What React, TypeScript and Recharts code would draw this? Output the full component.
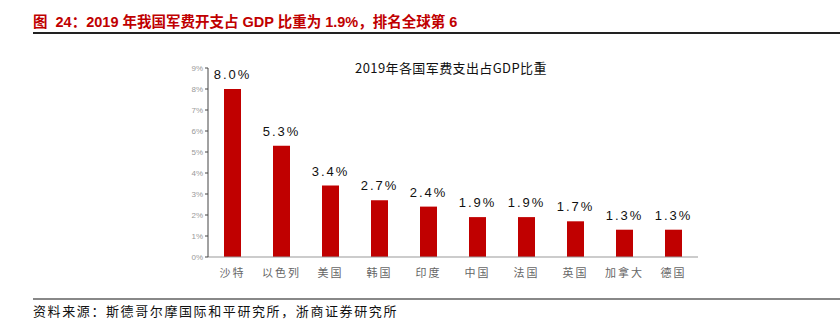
import { Bar, BarChart, LabelList, XAxis, YAxis } from "recharts";

const COUNTRIES = ["沙特", "以色列", "美国", "韩国", "印度", "中国", "法国", "英国", "加拿大", "德国"];
const SHARE_OF_GDP = [8.0, 5.3, 3.4, 2.7, 2.4, 1.9, 1.9, 1.7, 1.3, 1.3];
const Y_TICKS = [0, 1, 2, 3, 4, 5, 6, 7, 8, 9];

const data = COUNTRIES.map((name, i) => ({ name, value: SHARE_OF_GDP[i] }));

const CJK = '"Noto Sans CJK SC", sans-serif';

const App = () => {
  return (
    <div
      style={{
        position: "absolute",
        left: 0,
        top: 0,
        width: 840,
        height: 321,
        background: "#fff",
        overflow: "hidden",
      }}
    >
      <div
        style={{
          position: "absolute",
          left: 33,
          top: 10,
          fontFamily: '"Liberation Sans", "Noto Sans CJK SC", sans-serif',
          fontWeight: 700,
          fontSize: 14.5,
          color: "#c00000",
          whiteSpace: "pre",
        }}
      >
        图  24：2019 年我国军费开支占 GDP 比重为 1.9%，排名全球第 6
      </div>
      <div style={{ position: "absolute", left: 33, right: 0, top: 32, height: 2, background: "#222" }} />

      <div
        style={{
          position: "absolute",
          left: 451,
          top: 58,
          transform: "translateX(-50%)",
          fontFamily: CJK,
          fontSize: 13,
          letterSpacing: 0.4,
          color: "#111",
          whiteSpace: "nowrap",
        }}
      >
        2019年各国军费支出占GDP比重
      </div>

      <div style={{ position: "absolute", left: 0, top: 0 }}>
        <BarChart width={840} height={321} data={data} margin={{ top: 68, right: 142, left: 178, bottom: 34 }}>
          <XAxis
            dataKey="name"
            height={30}
            axisLine={{ stroke: "#999" }}
            tickLine={false}
            tick={{ fontSize: 11, fill: "#666", fontFamily: CJK, letterSpacing: 2 }}
            tickMargin={6}
            interval={0}
          />
          <YAxis
            width={30}
            domain={[0, 9]}
            ticks={Y_TICKS}
            tickFormatter={(v: number) => `${v}%`}
            axisLine={{ stroke: "#444" }}
            tickLine={{ stroke: "#444" }}
            tickSize={3}
            tick={{ fontSize: 8, fill: "#999", fontFamily: '"Liberation Sans", sans-serif' }}
          />
          <Bar dataKey="value" fill="#c00000" barSize={17} isAnimationActive={false}>
            <LabelList
              dataKey="value"
              position="top"
              offset={10}
              formatter={(v: number) => `${v.toFixed(1)}%`}
              style={{ fontSize: 13, fill: "#111", fontFamily: '"Liberation Sans", sans-serif', letterSpacing: 2 }}
            />
          </Bar>
        </BarChart>
      </div>

      <div style={{ position: "absolute", left: 33, right: 0, top: 298, height: 2, background: "#888" }} />
      <div
        style={{
          position: "absolute",
          left: 33,
          top: 303,
          fontFamily: CJK,
          fontSize: 13,
          lineHeight: "16px",
          letterSpacing: 1.6,
          color: "#111",
          whiteSpace: "nowrap",
        }}
      >
        资料来源：斯德哥尔摩国际和平研究所，浙商证券研究所
      </div>
    </div>
  );
};

export default App;
